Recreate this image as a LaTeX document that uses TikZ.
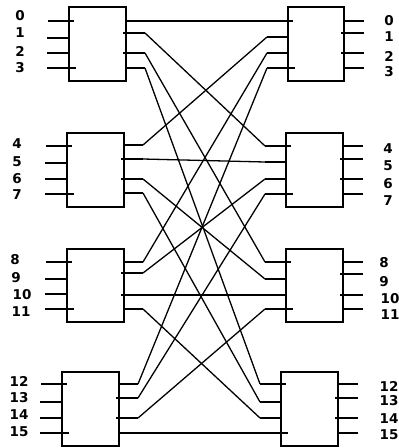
\documentclass[tikz,border=0pt]{standalone}
\usepackage{fontspec}
\setmainfont{DejaVu Sans}
\begin{document}
\begin{tikzpicture}[x=1pt,y=-1pt,
  swbox/.style={draw=black,line width=1.7pt,fill=none,inner sep=0pt,outer sep=0pt},
  pin/.style={draw=black,line width=1.7pt},
  wire/.style={draw=black,line width=1.3pt},
  lab/.style={inner sep=0pt,font=\fontsize{13.5}{13.5}\selectfont\bfseries}]
\useasboundingbox (0,0) rectangle (399,448);
% boxes
\node[swbox,minimum width=57pt,minimum height=74pt] (L1) at (97.5,44) {};
\node[swbox,minimum width=57pt,minimum height=74pt] (L2) at (95.5,170) {};
\node[swbox,minimum width=57pt,minimum height=73pt] (L3) at (95.5,285.5) {};
\node[swbox,minimum width=57pt,minimum height=74pt] (L4) at (90.5,409) {};
\node[swbox,minimum width=56pt,minimum height=74pt] (R1) at (316,44) {};
\node[swbox,minimum width=57pt,minimum height=74pt] (R2) at (314.5,170) {};
\node[swbox,minimum width=57pt,minimum height=73pt] (R3) at (314.5,285.5) {};
\node[swbox,minimum width=57pt,minimum height=74pt] (R4) at (309.5,409) {};
% left boxes: pins
\foreach \b/\lx/\rx/\ia/\ib/\ic/\id/\oa/\ob/\oc/\od in
  {L1/69/126/21/38/53/68/21/33/53/68,
   L2/67/124/146/163/179/194/145/159/179/193,
   L3/67/124/262/279/294/309/262/273/295/309,
   L4/62/119/384/402/418/433/384/398/418/433}{
  \draw[pin] (\lx-21,\ia) -- (\lx+5,\ia);
  \draw[pin] (\lx-22,\ib) -- (\lx,\ib);
  \draw[pin] (\lx-22,\ic) -- (\lx,\ic);
  \draw[pin] (\lx-22,\id) -- (\lx+7,\id);
  \coordinate (\b-o0) at (\rx+19,\oa);
  \coordinate (\b-o1) at (\rx+19,\ob);
  \coordinate (\b-o2) at (\rx+19,\oc);
  \coordinate (\b-o3) at (\rx+19,\od);
  \draw[pin] (\rx,\oa) -- (\b-o0);
  \draw[pin] (\rx-3,\ob) -- (\b-o1);
  \draw[pin] (\rx-3,\oc) -- (\b-o2);
  \draw[pin] (\rx,\od) -- (\b-o3);
}
% right boxes: pins
\foreach \b/\lx/\rx/\ia/\ib/\ic/\id/\oa/\ob/\oc/\od in
  {R1/288/344/21/37/53/68/21/33/53/68,
   R2/286/343/146/162/179/194/146/159/179/194,
   R3/286/343/262/279/295/309/262/274/295/309,
   R4/281/338/384/402/418/433/384/398/418/433}{
  \coordinate (\b-i0) at (\lx-21,\ia);
  \coordinate (\b-i1) at (\lx-21,\ib);
  \coordinate (\b-i2) at (\lx-21,\ic);
  \coordinate (\b-i3) at (\lx-21,\id);
  \draw[pin] (\b-i0) -- (\lx+5,\ia);
  \draw[pin] (\b-i1) -- (\lx,\ib);
  \draw[pin] (\b-i2) -- (\lx,\ic);
  \draw[pin] (\b-i3) -- (\lx+7,\id);
  \draw[pin] (\rx,\oa) -- (\rx+20,\oa);
  \draw[pin] (\rx-3,\ob) -- (\rx+20,\ob);
  \draw[pin] (\rx-3,\oc) -- (\rx+20,\oc);
  \draw[pin] (\rx,\od) -- (\rx+20,\od);
}
% shuffle wires
\foreach \i in {1,...,4}{
  \foreach \j in {0,...,3}{
    \pgfmathtruncatemacro\jj{\j+1}
    \pgfmathtruncatemacro\ii{\i-1}
    \draw[wire] (L\i-o\j) -- (R\jj-i\ii);
  }
}
% left labels
\node[lab] (ll0) at (20,15.5) {0};
\node[lab] (ll1) at (20,32.5) {1};
\node[lab] (ll2) at (20,51) {2};
\node[lab] (ll3) at (20,68) {3};
\node[lab] (ll4) at (17,144) {4};
\node[lab] (ll5) at (17,162) {5};
\node[lab] (ll6) at (17,179) {6};
\node[lab] (ll7) at (17,195) {7};
\node[lab] (ll8) at (15,260) {8};
\node[lab] (ll9) at (16,278) {9};
\node[lab] (ll10) at (22,295) {10};
\node[lab] (ll11) at (21,312) {11};
\node[lab] (ll12) at (19,381) {12};
\node[lab] (ll13) at (19,398) {13};
\node[lab] (ll14) at (19,415) {14};
\node[lab] (ll15) at (19,432) {15};
% right labels
\node[lab] (rl0) at (389,20.5) {0};
\node[lab] (rl1) at (389,37) {1};
\node[lab] (rl2) at (389,56) {2};
\node[lab] (rl3) at (389,72) {3};
\node[lab] (rl4) at (388,149) {4};
\node[lab] (rl5) at (388,166) {5};
\node[lab] (rl6) at (388,184) {6};
\node[lab] (rl7) at (388,201) {7};
\node[lab] (rl8) at (384,263) {8};
\node[lab] (rl9) at (384,282) {9};
\node[lab] (rl10) at (390,299) {10};
\node[lab] (rl11) at (390,315) {11};
\node[lab] (rl12) at (389,386) {12};
\node[lab] (rl13) at (389,401) {13};
\node[lab] (rl14) at (389,419) {14};
\node[lab] (rl15) at (389,435) {15};
\end{tikzpicture}
\end{document}
